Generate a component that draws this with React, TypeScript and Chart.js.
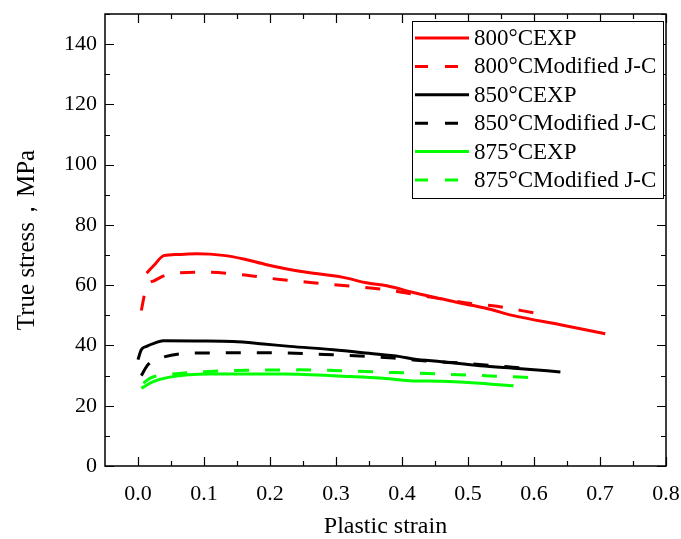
import React, { useEffect, useRef } from "react";
import { Chart, registerables } from "chart.js";

Chart.register(...registerables);

// ---- Data ----
const exp800Strain = [0.013, 0.025, 0.039, 0.06, 0.089, 0.129, 0.16, 0.195, 0.245, 0.311, 0.346, 0.377, 0.417, 0.46, 0.488, 0.53, 0.569, 0.64, 0.708];
const exp800Stress = [64.0, 66.8, 69.8, 70.2, 70.4, 69.9, 68.7, 66.8, 64.6, 62.6, 60.8, 59.8, 57.6, 55.5, 54.1, 52.2, 49.9, 46.9, 43.9];

const jc800Strain = [0.005, 0.013, 0.025, 0.038, 0.063, 0.1, 0.144, 0.215, 0.296, 0.382, 0.407, 0.45, 0.498, 0.544, 0.6];
const jc800Stress = [51.6, 59.6, 61.5, 63.0, 64.1, 64.3, 63.8, 61.9, 60.2, 58.3, 57.4, 55.8, 54.1, 53.0, 50.8];

const exp850Strain = [0.0, 0.005, 0.013, 0.025, 0.038, 0.09, 0.144, 0.19, 0.23, 0.296, 0.35, 0.397, 0.417, 0.46, 0.518, 0.58, 0.64];
const exp850Stress = [35.3, 38.6, 39.7, 40.8, 41.6, 41.5, 41.3, 40.5, 39.7, 38.6, 37.4, 36.3, 35.5, 34.6, 33.3, 32.3, 31.2];

const jc850Strain = [0.005, 0.015, 0.038, 0.094, 0.195, 0.296, 0.387, 0.427, 0.5, 0.568, 0.6];
const jc850Stress = [30.0, 33.6, 36.1, 37.5, 37.6, 36.9, 35.8, 35.0, 34.0, 32.8, 32.2];

const exp875Strain = [0.005, 0.023, 0.048, 0.109, 0.22, 0.321, 0.367, 0.412, 0.46, 0.518, 0.569];
const exp875Stress = [25.8, 28.0, 29.5, 30.5, 30.5, 29.7, 29.2, 28.3, 28.1, 27.5, 26.6];

const jc875Strain = [0.008, 0.02, 0.048, 0.109, 0.245, 0.389, 0.46, 0.533, 0.6];
const jc875Stress = [27.5, 29.3, 30.4, 31.4, 31.9, 31.0, 30.5, 29.9, 29.3];

const seriesLabels = [
  "800°CEXP",
  "800°CModified J-C",
  "850°CEXP",
  "850°CModified J-C",
  "875°CEXP",
  "875°CModified J-C",
];
const seriesColors = ["#ff0000", "#ff0000", "#000000", "#000000", "#00ff00", "#00ff00"];

const xMin = -0.05, xMax = 0.8, xStep = 0.1, xMinor = 0.05;
const yMin = 0, yMax = 150, yStep = 20, yMinor = 10;

const FONT = "'Liberation Serif', 'Times New Roman', serif";
const DASH = [15, 16];

function pts(xs: number[], ys: number[]) {
  return xs.map((x, i) => ({ x, y: ys[i] }));
}

function zeroPad(s: any) {
  s.paddingTop = 0;
  s.paddingBottom = 0;
  s.paddingLeft = 0;
  s.paddingRight = 0;
}

const framePlugin = {
  id: "frameAndLegend",
  afterDraw(chart: any) {
    const { ctx, chartArea } = chart;
    const { left, right, top, bottom } = chartArea;
    const xs = chart.scales.x;
    const ys = chart.scales.y;
    ctx.save();
    ctx.strokeStyle = "#000";
    ctx.lineWidth = 1.5;
    ctx.setLineDash([]);
    ctx.strokeRect(left, top, right - left, bottom - top);
    ctx.lineWidth = 1.2;
    const eps = 1e-9;
    for (let v = 0; v <= xMax + eps; v += xMinor) {
      const major = Math.abs(v / xStep - Math.round(v / xStep)) < 1e-6;
      const len = major ? 9 : 5;
      const px = Math.round(xs.getPixelForValue(v)) + 0.5;
      ctx.beginPath();
      ctx.moveTo(px, bottom);
      ctx.lineTo(px, bottom - len);
      ctx.moveTo(px, top);
      ctx.lineTo(px, top + len);
      ctx.stroke();
    }
    for (let v = yMin; v <= yMax + eps; v += yMinor) {
      const major = v % yStep === 0;
      const len = major ? 9 : 5;
      const py = Math.round(ys.getPixelForValue(v)) + 0.5;
      ctx.beginPath();
      ctx.moveTo(left, py);
      ctx.lineTo(left + len, py);
      ctx.moveTo(right, py);
      ctx.lineTo(right - len, py);
      ctx.stroke();
    }
    // legend
    const lx = 412, ly = 21, lw = 251, lh = 177;
    ctx.fillStyle = "#fff";
    ctx.fillRect(lx, ly, lw, lh);
    ctx.lineWidth = 1;
    ctx.strokeStyle = "#000";
    ctx.strokeRect(lx + 0.5, ly + 0.5, lw, lh);
    ctx.font = `23px ${FONT}`;
    ctx.textBaseline = "middle";
    ctx.textAlign = "left";
    chart.data.datasets.forEach((ds: any, i: number) => {
      const cy = 38 + i * 28.4;
      ctx.strokeStyle = ds.borderColor;
      ctx.lineWidth = 3;
      ctx.setLineDash(ds.borderDash && ds.borderDash.length ? [13, 17] : []);
      ctx.beginPath();
      ctx.moveTo(415, cy);
      ctx.lineTo(469, cy);
      ctx.stroke();
      ctx.setLineDash([]);
      ctx.fillStyle = "#000";
      ctx.fillText(ds.label, 474, cy + 1);
    });
    ctx.restore();
  },
};

export default function App() {
  const ref = useRef<HTMLCanvasElement | null>(null);
  useEffect(() => {
    document.body.style.margin = "0";
    const canvas = ref.current!;
    const sets = [
      pts(exp800Strain, exp800Stress),
      pts(jc800Strain, jc800Stress),
      pts(exp850Strain, exp850Stress),
      pts(jc850Strain, jc850Stress),
      pts(exp875Strain, exp875Stress),
      pts(jc875Strain, jc875Stress),
    ];
    const chart = new Chart(canvas, {
      type: "scatter",
      data: {
        datasets: sets.map((d, i) => ({
          label: seriesLabels[i],
          data: d,
          showLine: true,
          borderColor: seriesColors[i],
          backgroundColor: seriesColors[i],
          borderWidth: 3,
          borderDash: i % 2 === 1 ? DASH : [],
          pointRadius: 0,
          cubicInterpolationMode: "monotone",
          fill: false,
        })),
      },
      options: {
        responsive: false,
        animation: false,
        devicePixelRatio: 1,
        layout: { padding: { top: 14, right: 15, left: 0, bottom: 0 } },
        plugins: { legend: { display: false }, tooltip: { enabled: false } },
        scales: {
          x: {
            type: "linear",
            position: "bottom",
            min: xMin,
            max: xMax,
            grid: { display: false, drawTicks: false },
            border: { display: false },
            ticks: {
              stepSize: xStep,
              includeBounds: false,
              padding: 15,
              color: "#000",
              font: { family: FONT, size: 22 },
              maxRotation: 0,
              callback: (v: any) => Number(v).toFixed(1),
            },
            title: {
              display: true,
              text: "Plastic strain",
              color: "#000",
              font: { family: FONT, size: 24, lineHeight: 1.0 },
              padding: { top: 0, bottom: 0 },
            },
            afterFit: (s: any) => {
              s.height = 73;
              zeroPad(s);
            },
          },
          y: {
            type: "linear",
            min: yMin,
            max: yMax,
            grid: { display: false, drawTicks: false },
            border: { display: false },
            ticks: {
              stepSize: yStep,
              includeBounds: false,
              padding: 8,
              color: "#000",
              font: { family: FONT, size: 22 },
              callback: (v: any) => String(v),
            },
            title: {
              display: true,
              text: "True stress，MPa",
              color: "#000",
              font: { family: FONT, size: 25 },
              padding: { top: 12, bottom: 0 },
            },
            afterFit: (s: any) => {
              s.width = 105;
              zeroPad(s);
            },
          },
        },
      },
      plugins: [framePlugin],
    });
    return () => chart.destroy();
  }, []);
  return (
    <div style={{ width: 681, height: 539, background: "#fff" }}>
      <canvas ref={ref} width={681} height={539} style={{ display: "block" }} />
    </div>
  );
}
